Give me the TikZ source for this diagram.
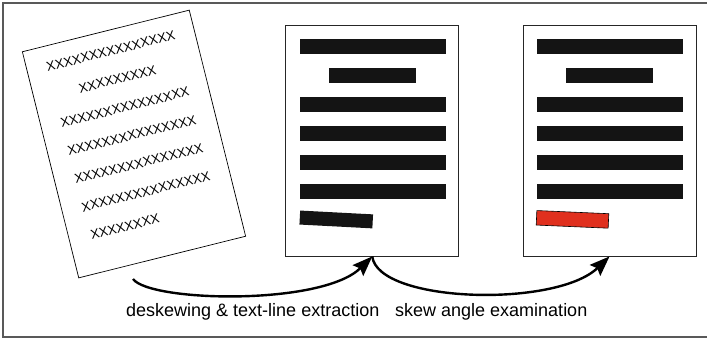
\documentclass[tikz,border=0pt]{standalone}
\usepackage{fontspec}
\setmainfont{Liberation Sans}
\usetikzlibrary{arrows.meta}
\definecolor{barblack}{HTML}{141414}
\definecolor{barred}{HTML}{E0301E}
\tikzset{
	frame/.style={draw=black!65, line width=1.5pt},
	page/.style={draw=black!85, line width=0.9pt, minimum width=173pt, minimum height=231pt, inner sep=0pt},
	skewpage/.style={draw=black, line width=0.7pt, minimum width=172pt, minimum height=233pt, inner sep=0pt, rotate=14},
	xline/.style={font=\fontsize{13.2}{15}\selectfont, inner sep=0pt},
	bar/.style={fill=barblack},
	flow/.style={line width=2.4pt, -{Stealth[length=20pt, width=15pt, inset=3pt]}},
	caption/.style={font=\fontsize{18}{21}\selectfont, inner sep=0pt, anchor=base west}
}
\begin{document}
\begin{tikzpicture}[x=1pt, y=-1pt]
	\useasboundingbox (0,0) rectangle (707,340);
\draw[frame] (707,3) -- (3,3) -- (3,337) -- (707,337);
% skewed input page
\node[skewpage] (skew) at (134,144) {};
\begin{scope}[shift={(skew.north west)}, rotate=14, transform shape]
	\node[xline, anchor=west] (xl1) at (20,21) {XXXXXXXXXXXXXXX};
	\node[xline] (xl2) at (86,50) {XXXXXXXXX};
	\foreach \i/\v in {3/79, 4/108, 5/137, 6/166}
		\node[xline, anchor=west] (xl\i) at (20,\v) {XXXXXXXXXXXXXXX};
	\node[xline, anchor=west] (xl7) at (22,195) {XXXXXXXX};
\end{scope}
% deskewed pages
\node[page] (mid) at (372.25,140.5) {};
\node[page] (fin) at (609.5,140.5) {};
\foreach \pg in {mid, fin} {
	\begin{scope}[shift={(\pg.north west)}]
		\foreach \y in {14, 72, 101, 130, 159}
			\fill[bar] (14.5,\y) rectangle +(146,15);
		\fill[bar] (43.5,43) rectangle +(87,15);
	\end{scope}
}
\begin{scope}[shift={(mid.north west)}]
	\fill[bar, rotate around={-3:(14.5,193)}] (14.5,186) rectangle +(73,14);
\end{scope}
\begin{scope}[shift={(fin.north west)}]
	\filldraw[fill=barred, draw=black, line width=0.6pt, rotate around={-2.5:(14,193)}] (14,186) rectangle +(72,14.5);
\end{scope}
% arrows
\coordinate (src) at (133,279);
\draw[flow] (src) .. controls (150,302) and (322,306) .. (mid.south);
\draw[flow] (mid.south) .. controls (378,303) and (556,308) .. (fin.south);
\node[caption] (deskew) at (126,316) {deskewing \& text-line extraction};
\node[caption] (exam) at (395,316) {skew angle examination};
\end{tikzpicture}
\end{document}
